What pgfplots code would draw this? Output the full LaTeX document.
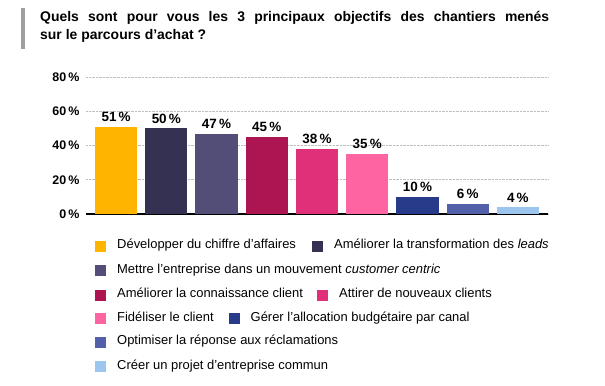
\documentclass[border=0pt]{standalone}
\usepackage{pgfplots}
\pgfplotsset{compat=1.18}
\usepackage{fontspec}
\setmainfont{Liberation Sans}
\definecolor{c1}{HTML}{FFB500}
\definecolor{c2}{HTML}{343152}
\definecolor{c3}{HTML}{524E78}
\definecolor{c4}{HTML}{AD1452}
\definecolor{c5}{HTML}{E0307A}
\definecolor{c6}{HTML}{FF64A2}
\definecolor{c7}{HTML}{283A8A}
\definecolor{c8}{HTML}{5260AA}
\definecolor{c9}{HTML}{9CC6EE}
\newcommand\leg[4]{%
  \fill[#3] (#1bp-5.5bp,-#2bp-5.5bp) rectangle (#1bp+5.5bp,-#2bp+5.5bp);
  \node[anchor=west,inner sep=0pt,font=\fontsize{13}{15}\selectfont] at (#1bp+16.5bp,-#2bp) {\strut #4};}
\begin{document}
\begin{tikzpicture}
\path (0,0) rectangle (605bp,-386bp);
\fill[gray!75] (21bp,-8bp) rectangle (24.5bp,-49bp);
\node[anchor=north west,inner sep=0pt,
  font=\bfseries\fontsize{14}{17.5}\selectfont] at (40bp,-9.5bp)
  {\begin{tabular}{@{}l@{}}\hbox to 509bp{Quels\hfill sont\hfill pour\hfill vous\hfill les\hfill 3\hfill principaux\hfill objectifs\hfill des\hfill chantiers\hfill menés}\\sur le parcours d’achat ?\end{tabular}};
\begin{axis}[
  at={(86bp,-214bp)}, anchor=south west,
  scale only axis, width=462bp, height=137bp,
  xmin=-0.6, xmax=8.6, ymin=0, ymax=80,
  ytick={0,20,40,60,80}, xtick=\empty,
  /pgf/number format/assume math mode=true,
  yticklabel={\pgfmathprintnumber{\tick}\,\%},
  yticklabel style={font=\bfseries\fontsize{12.5}{14}\selectfont, xshift=-3bp},
  major tick length=0pt,
  axis x line*=bottom, axis y line*=left,
  y axis line style={draw=none},
  x axis line style={line width=1.4pt, black},
  ymajorgrids, grid style={densely dotted, gray!50, line width=0.6pt},
  ybar, bar width=0.84, bar shift=0pt,
  nodes near coords={\pgfmathprintnumber{\pgfplotspointmeta}\,\%},
  nodes near coords style={font=\bfseries\fontsize{13.5}{15}\selectfont, black, yshift=1.5bp},
  every axis plot/.append style={draw=none},
]
\addplot[fill=c1] coordinates {(0,51)};
\addplot[fill=c2] coordinates {(1,50)};
\addplot[fill=c3] coordinates {(2,47)};
\addplot[fill=c4] coordinates {(3,45)};
\addplot[fill=c5] coordinates {(4,38)};
\addplot[fill=c6] coordinates {(5,35)};
\addplot[fill=c7] coordinates {(6,10)};
\addplot[fill=c8] coordinates {(7,6)};
\addplot[fill=c9] coordinates {(8,4)};
\end{axis}
\leg{100.5}{246}{c1}{Développer du chiffre d’affaires}
\leg{317.5}{246}{c2}{Améliorer la transformation des \textit{leads}}
\leg{100.5}{270.5}{c3}{Mettre l’entreprise dans un mouvement \textit{customer centric}}
\leg{100.5}{295}{c4}{Améliorer la connaissance client}
\leg{322.5}{295}{c5}{Attirer de nouveaux clients}
\leg{100.5}{318.5}{c6}{Fidéliser le client}
\leg{234}{318.5}{c7}{Gérer l’allocation budgétaire par canal}
\leg{100.5}{342}{c8}{Optimiser la réponse aux réclamations}
\leg{100.5}{366.5}{c9}{Créer un projet d’entreprise commun}
\end{tikzpicture}
\end{document}
